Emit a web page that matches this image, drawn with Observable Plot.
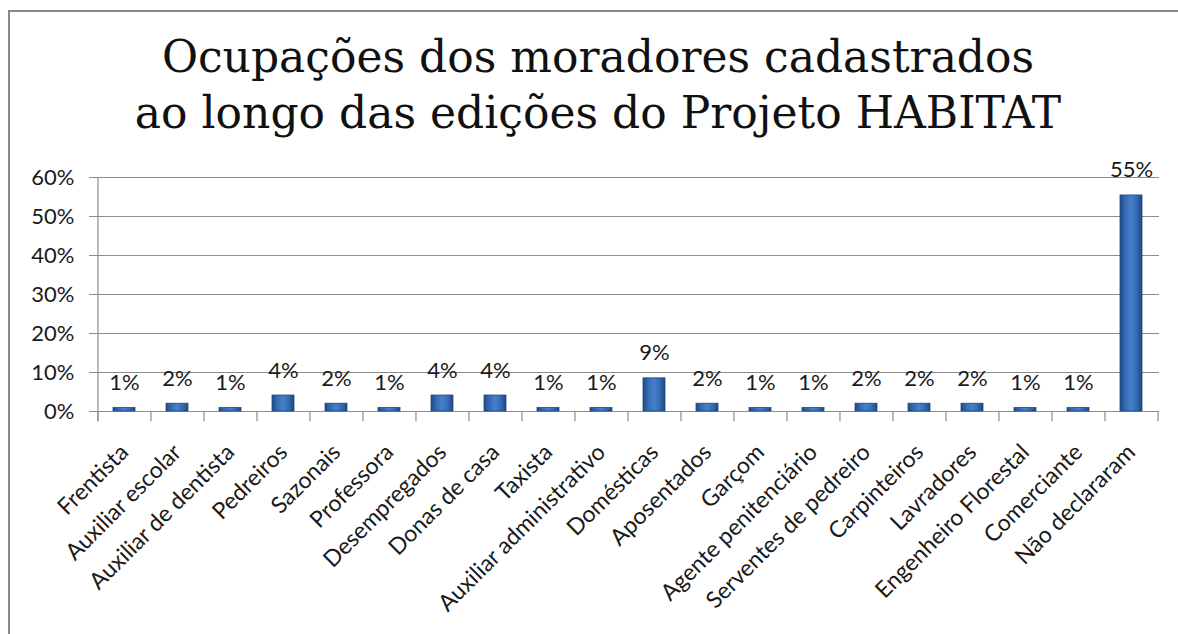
<!DOCTYPE html>
<html><head><meta charset="utf-8">
<script src="https://cdn.jsdelivr.net/npm/d3@7"></script>
<script src="https://cdn.jsdelivr.net/npm/@observablehq/plot@0.6"></script>
<style>
body{margin:0;background:#fff;}
#wrap{position:relative;width:1178px;height:634px;overflow:hidden;background:#fff}
#frame{position:absolute;left:8px;top:10px;width:1220px;height:700px;border:2px solid #8a8a8a;box-sizing:border-box}
#title{position:absolute;left:0;top:29px;width:1196px;text-align:center;font-family:"DejaVu Serif",serif;font-size:44px;line-height:56px;color:#111}
#chart{position:absolute;left:0;top:0}
</style>
</head><body>
<div id="wrap">
<div id="frame"></div>
<div id="chart"></div>
<div id="title">Ocupações dos moradores cadastrados<br>ao longo das edições do Projeto HABITAT</div>
</div>
<script>
const categories = ["Frentista","Auxiliar escolar","Auxiliar de dentista","Pedreiros","Sazonais","Professora","Desempregados","Donas de casa","Taxista","Auxiliar administrativo","Domésticas","Aposentados","Garçom","Agente penitenciário","Serventes de pedreiro","Carpinteiros","Lavradores","Engenheiro Florestal","Comerciante","Não declararam"];
const values = [0.9,2.0,0.9,4.1,2.0,0.9,4.1,4.1,0.9,0.9,8.5,2.0,0.9,0.9,2.0,2.0,2.0,0.9,0.9,55.4];
const yTicks = [0,10,20,30,40,50,60];

const data = categories.map((c,i)=>({cat:c, value:values[i]}));
const W = 1178, H = 634, mL = 97, mR = 19;
const step = (W - mL - mR) / categories.length;
const grid = "#8c8c8c";

const chart = Plot.plot({
  width: W, height: H,
  marginLeft: mL, marginRight: mR, marginTop: 177, marginBottom: H - 411,
  style: {fontFamily: "Lato, sans-serif", background: "transparent", color: "#1a1a1a", overflow: "visible"},
  x: {domain: categories, paddingInner: 0.58, paddingOuter: 0.29, label: null},
  y: {domain: [0, 60], label: null},
  marks: [
    Plot.gridY(yTicks, {stroke: grid, strokeOpacity: 1, strokeWidth: 1.2}),
    Plot.ruleX(categories, {x: d => d, y1: -2.6, y2: 0, dx: -step/2, stroke: grid, strokeWidth: 1.2}),
    Plot.ruleX([categories[categories.length-1]], {x: d => d, y1: -2.6, y2: 0, dx: step/2, stroke: grid, strokeWidth: 1.2}),
    Plot.ruleX([categories[0]], {x: d => d, y1: -2.6, y2: 60, dx: -step/2, stroke: grid, strokeWidth: 1.2}),
    Plot.axisY(yTicks, {tickFormat: d => d + "%", tickSize: 8, tickPadding: 15, fontSize: 22, stroke: grid, fill: "#1a1a1a"}),
    Plot.axisX({tickRotate: -45, tickSize: 0, tickPadding: 37, fontSize: 23, fill: "#1a1a1a"}),
    Plot.barY(data, {x: "cat", y: "value", fill: "url(#barGrad)", stroke: "#1f4a80", strokeWidth: 0.8}),
    Plot.text(data, {x: "cat", y: "value", text: d => Math.round(d.value) + "%", dy: -25, fontSize: 22, fill: "#1a1a1a"})
  ]
});

const svg = d3.select(chart);
const defs = svg.insert("defs", ":first-child");
const g = defs.append("linearGradient").attr("id", "barGrad").attr("x1", "0").attr("x2", "1").attr("y1", "0").attr("y2", "0");
[["0%","#214a82"],["25%","#356cb4"],["50%","#4580cc"],["75%","#356cb4"],["100%","#1f4780"]].forEach(([o,c]) => g.append("stop").attr("offset", o).attr("stop-color", c));
document.getElementById("chart").appendChild(chart);
</script>
</body></html>
